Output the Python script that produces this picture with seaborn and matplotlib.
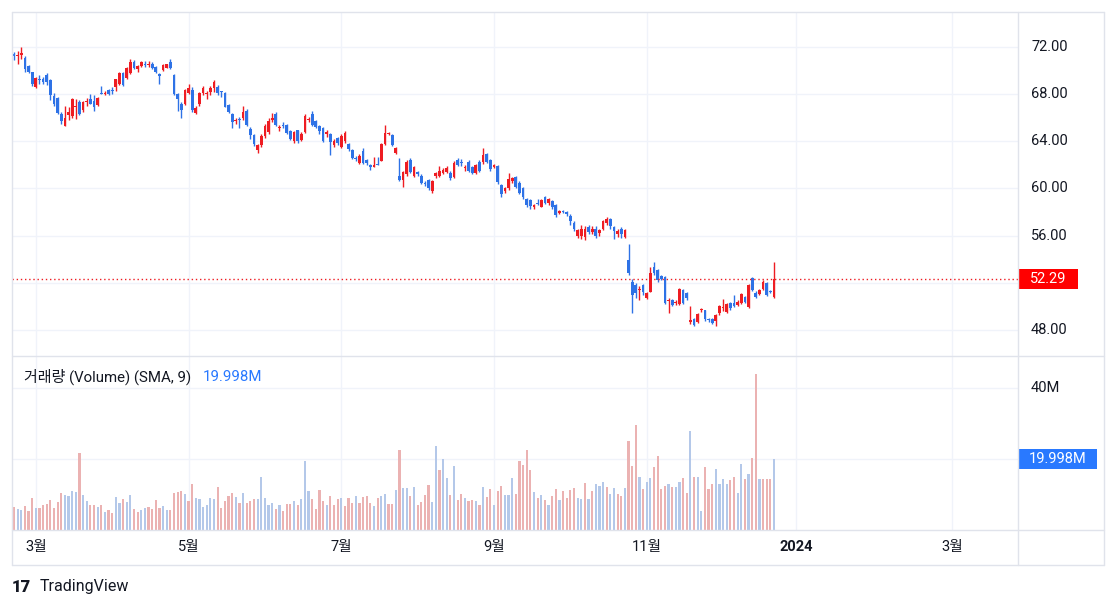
import numpy as np
import pandas as pd
import matplotlib
matplotlib.use("Agg")
import matplotlib.pyplot as plt
import matplotlib.transforms as mtransforms
from matplotlib.lines import Line2D
from matplotlib.patches import Rectangle
import seaborn as sns

# ---------------- data (daily OHLC) ----------------
opens = [71.40, 71.20, 71.35, 71.05, 70.40, 69.85, 68.60, 69.25, 69.30, 69.60,
         69.20, 67.85, 67.65, 66.30, 65.30, 66.20, 66.15, 66.95, 67.30, 66.65,
         67.35, 67.55, 67.45, 67.10, 68.10, 68.05, 68.35, 68.35, 68.60, 68.90,
         69.80, 69.40, 69.80, 70.75, 70.10, 70.40, 70.55, 70.45, 70.60, 70.30,
         69.70, 70.05, 70.25, 70.75, 69.60, 68.00, 67.15, 67.20, 68.10, 68.35,
         66.40, 67.15, 68.10, 68.05, 68.15, 68.50, 68.65, 68.25, 68.10, 67.10,
         66.30, 65.70, 65.85, 65.95, 66.55, 65.05, 64.55, 63.30, 63.70, 64.45,
         64.80, 65.85, 66.30, 65.10, 65.40, 65.40, 64.90, 64.05, 64.95, 64.10,
         64.80, 65.80, 66.35, 65.70, 65.30, 65.10, 64.65, 64.65, 63.65, 64.30,
         63.55, 64.05, 63.80, 63.30, 62.60, 62.20, 63.20, 62.40, 62.00, 61.85,
         62.10, 62.35, 63.80, 64.60, 64.50, 63.00, 61.05, 60.70, 61.20, 62.40,
         61.10, 61.40, 61.10, 60.45, 60.70, 59.75, 61.05, 61.10, 61.30, 61.40,
         61.35, 60.95, 62.40, 62.25, 61.75, 62.25, 61.80, 61.35, 62.25, 62.25,
         62.90, 62.40, 61.80, 61.90, 60.30, 59.80, 60.00, 60.65, 60.95, 60.50,
         60.05, 59.10, 59.00, 58.45, 58.80, 58.45, 59.30, 58.75, 58.90, 58.60,
         57.95, 58.10, 58.00, 57.70, 57.10, 56.00, 56.00, 55.90, 56.70, 56.30,
         56.60, 56.20, 56.60, 57.05, 57.40, 56.70, 56.10, 56.60, 55.90, 53.95,
         52.10, 51.80, 51.40, 51.80, 50.70, 51.25, 53.35, 53.10, 52.60, 52.50,
         50.45, 50.50, 50.25, 50.20, 51.40, 51.15, 48.70, 48.90, 48.70, 49.65,
         49.65, 48.95, 48.95, 48.75, 49.40, 49.85, 49.55, 50.30, 50.30, 50.10,
         50.30, 50.80, 49.95, 52.40, 51.15, 51.05, 51.50, 52.00, 51.30, 50.80]
highs = [71.60, 71.70, 72.00, 71.20, 70.50, 69.90, 69.45, 69.60, 69.45, 69.80,
         69.30, 68.10, 67.80, 66.50, 67.00, 66.90, 67.70, 67.55, 67.50, 67.40,
         67.70, 68.00, 67.90, 67.80, 68.70, 68.30, 68.45, 68.60, 69.30, 69.90,
         69.90, 70.30, 71.00, 70.90, 70.50, 70.80, 70.80, 70.80, 70.70, 70.40,
         69.80, 70.60, 70.60, 71.00, 69.70, 68.10, 67.30, 68.40, 68.90, 68.60,
         67.00, 68.20, 68.70, 68.30, 68.70, 69.20, 68.80, 68.30, 68.20, 67.20,
         66.40, 66.00, 66.10, 67.00, 66.70, 65.20, 64.60, 63.80, 64.60, 65.50,
         66.00, 66.40, 66.50, 65.40, 65.60, 65.50, 64.95, 64.90, 65.00, 64.80,
         66.30, 66.10, 66.60, 65.80, 65.40, 65.20, 65.00, 64.70, 64.20, 64.40,
         64.60, 64.90, 63.90, 63.35, 62.75, 62.90, 63.40, 62.50, 62.10, 62.70,
         62.70, 63.90, 65.40, 64.80, 64.60, 63.50, 62.60, 61.50, 62.40, 62.60,
         61.90, 61.50, 61.20, 60.60, 60.80, 60.70, 61.40, 61.90, 61.70, 61.90,
         61.45, 62.30, 62.60, 62.50, 62.00, 62.40, 61.90, 62.10, 62.40, 63.40,
         63.00, 62.50, 62.10, 62.00, 60.35, 60.10, 61.35, 61.00, 61.10, 60.60,
         60.10, 59.20, 59.10, 58.70, 59.10, 59.10, 59.40, 59.20, 59.00, 58.70,
         58.20, 58.20, 58.10, 57.80, 57.20, 56.60, 56.90, 56.80, 56.90, 56.80,
         56.80, 56.60, 57.30, 57.60, 57.50, 56.80, 56.60, 56.70, 56.60, 55.30,
         52.30, 51.95, 51.70, 51.90, 51.20, 53.30, 53.75, 53.20, 52.65, 52.60,
         50.70, 50.60, 50.50, 51.60, 51.50, 51.25, 50.00, 49.00, 49.45, 49.90,
         49.70, 49.00, 49.00, 49.35, 50.10, 50.65, 50.30, 50.40, 50.95, 50.50,
         51.15, 50.90, 51.90, 52.50, 51.30, 51.45, 52.20, 52.10, 51.40, 53.75]
lows = [70.90, 70.60, 71.00, 69.90, 69.80, 68.70, 68.50, 68.90, 68.90, 68.80,
        67.50, 67.00, 66.30, 65.50, 65.30, 65.80, 66.00, 65.90, 66.20, 66.50,
        67.00, 67.15, 66.60, 67.00, 68.00, 67.90, 67.95, 68.00, 68.30, 68.80,
        68.70, 69.30, 69.70, 70.10, 69.90, 70.30, 70.30, 70.30, 70.10, 69.80,
        68.90, 70.00, 70.20, 70.10, 67.90, 66.60, 66.00, 67.10, 68.00, 66.50,
        66.30, 67.00, 67.90, 67.60, 67.90, 68.20, 67.90, 67.80, 66.90, 66.40,
        65.10, 65.50, 65.10, 65.80, 65.30, 64.20, 63.60, 63.00, 63.50, 64.30,
        64.60, 65.60, 65.30, 64.90, 65.10, 64.60, 64.10, 63.90, 63.90, 64.00,
        64.70, 65.60, 65.30, 65.10, 64.60, 63.95, 64.40, 62.80, 63.50, 63.70,
        63.40, 63.90, 63.20, 62.50, 62.35, 62.10, 62.10, 62.00, 61.60, 61.80,
        61.95, 62.30, 63.70, 64.50, 63.60, 62.90, 60.60, 60.10, 61.10, 61.30,
        61.00, 61.10, 60.40, 60.20, 59.90, 59.60, 60.90, 61.00, 61.20, 61.30,
        60.75, 60.90, 61.90, 61.90, 61.50, 61.40, 61.20, 61.20, 61.40, 62.10,
        62.20, 61.50, 61.70, 60.40, 59.30, 59.60, 59.90, 60.50, 60.00, 59.50,
        59.10, 58.40, 58.30, 58.30, 58.60, 58.40, 58.70, 58.60, 58.30, 57.60,
        57.80, 57.90, 57.70, 56.90, 56.40, 55.80, 55.70, 55.60, 56.10, 56.10,
        55.80, 56.00, 56.50, 56.90, 56.60, 55.70, 55.90, 55.80, 55.80, 52.70,
        49.45, 50.70, 50.50, 51.00, 50.60, 51.20, 52.70, 52.10, 52.20, 50.20,
        49.40, 50.00, 50.10, 50.10, 50.20, 50.50, 48.50, 48.30, 48.60, 49.50,
        48.80, 48.70, 48.50, 48.30, 49.30, 49.60, 49.40, 49.70, 49.95, 50.00,
        50.20, 50.30, 49.90, 51.30, 50.70, 50.95, 51.40, 50.85, 51.10, 50.70]
closes = [71.25, 71.35, 71.45, 70.10, 69.90, 68.90, 69.40, 69.20, 69.00, 69.05,
          67.90, 67.20, 66.40, 65.70, 66.00, 66.50, 67.55, 67.00, 66.30, 67.30,
          67.40, 67.20, 66.95, 67.65, 68.05, 68.10, 68.00, 68.30, 69.25, 69.80,
          68.80, 70.20, 70.70, 70.20, 70.35, 70.70, 70.50, 70.50, 70.20, 69.85,
          69.50, 70.50, 70.55, 70.20, 68.00, 67.55, 66.65, 68.35, 68.50, 66.65,
          66.85, 68.10, 68.50, 68.10, 68.55, 69.05, 68.10, 68.20, 66.95, 66.50,
          65.65, 65.75, 65.80, 66.45, 65.40, 64.50, 63.75, 63.70, 64.45, 65.30,
          65.70, 65.95, 65.40, 65.20, 65.30, 64.70, 64.20, 64.75, 64.05, 64.65,
          66.15, 65.90, 65.40, 65.25, 64.90, 64.05, 64.75, 63.95, 64.00, 63.90,
          64.45, 64.70, 63.35, 62.60, 62.50, 62.75, 62.20, 62.20, 61.85, 61.95,
          62.00, 63.80, 64.70, 64.70, 63.70, 63.40, 60.70, 61.40, 62.25, 61.40,
          61.80, 61.20, 60.50, 60.40, 60.00, 60.65, 61.35, 61.50, 61.55, 61.75,
          60.85, 62.20, 62.00, 62.20, 61.85, 61.50, 61.30, 62.00, 61.50, 62.85,
          62.25, 61.65, 62.00, 60.55, 59.55, 60.00, 60.80, 60.85, 60.15, 59.60,
          59.30, 58.60, 58.50, 58.60, 58.70, 59.00, 58.80, 59.10, 58.45, 57.75,
          58.10, 58.00, 57.80, 57.20, 56.60, 56.45, 56.60, 56.60, 56.30, 56.60,
          56.00, 56.45, 57.20, 57.40, 56.80, 56.40, 56.40, 56.10, 56.50, 52.85,
          50.95, 51.10, 51.50, 51.20, 51.15, 52.80, 52.80, 52.20, 52.35, 50.30,
          50.55, 50.10, 50.35, 51.50, 50.30, 50.70, 48.85, 48.40, 49.35, 49.75,
          48.90, 48.85, 48.60, 49.30, 50.00, 49.95, 50.20, 49.85, 50.05, 50.35,
          51.05, 50.40, 51.80, 51.40, 50.80, 51.35, 52.10, 50.95, 51.20, 52.29]

# volume in millions, and whether the volume bar is drawn in the "up" colour
volume_m = [6.6, 5.9, 5.6, 6.8, 5.4, 9.1, 6.2, 6.2, 6.9, 7.3,
            8.5, 6.3, 7.9, 10.4, 9.9, 9.6, 11.0, 10.6, 21.7, 9.9,
            8.1, 7.0, 7.0, 6.6, 7.0, 5.2, 5.6, 4.7, 9.3, 7.7,
            8.8, 8.0, 9.9, 5.9, 5.2, 5.6, 6.3, 6.6, 5.9, 8.5,
            6.3, 6.8, 5.6, 5.6, 10.4, 10.7, 11.0, 10.0, 8.2, 13.0,
            9.0, 8.8, 6.6, 6.9, 9.0, 8.6, 12.1, 6.3, 8.2, 9.6,
            10.3, 9.3, 7.6, 10.4, 7.6, 8.2, 8.7, 8.7, 15.0, 9.0,
            7.0, 7.6, 5.9, 6.9, 5.4, 7.3, 7.3, 8.2, 6.9, 8.7,
            19.5, 11.0, 8.7, 5.9, 11.3, 8.2, 6.9, 9.6, 6.9, 8.7,
            9.0, 6.8, 9.0, 7.6, 9.6, 7.6, 9.3, 9.6, 7.6, 6.8,
            9.0, 9.6, 10.1, 7.3, 7.3, 11.3, 22.5, 11.7, 11.7, 9.6,
            12.0, 6.9, 7.9, 9.9, 12.7, 7.8, 23.7, 16.9, 19.9, 14.6,
            9.9, 18.0, 8.5, 10.1, 8.9, 8.2, 8.5, 8.2, 7.0, 12.1,
            9.3, 11.5, 7.0, 11.0, 12.4, 9.9, 9.9, 14.7, 10.1, 19.4,
            18.3, 22.5, 16.9, 10.7, 9.1, 9.9, 8.5, 6.9, 9.6, 11.5,
            8.5, 11.0, 9.1, 11.3, 11.9, 9.0, 8.7, 13.1, 8.7, 11.0,
            13.0, 12.4, 13.5, 12.1, 10.1, 11.8, 10.1, 9.6, 11.8, 25.1,
            18.0, 29.6, 14.8, 11.5, 13.4, 14.6, 17.7, 20.8, 11.5, 12.4,
            13.0, 12.1, 12.1, 13.5, 14.6, 10.4, 27.9, 14.8, 14.8, 5.4,
            17.7, 11.5, 13.0, 17.2, 13.0, 14.4, 13.0, 14.1, 14.9, 10.4,
            18.6, 14.4, 15.8, 20.3, 43.9, 14.4, 14.4, 14.4, 14.4, 19.998]
volume_up = [1, 0, 0, 1, 1, 1, 0, 1, 1, 1,
             1, 1, 1, 1, 0, 0, 0, 0, 1, 0,
             0, 1, 1, 0, 1, 0, 1, 1, 0, 0,
             1, 0, 0, 1, 1, 0, 0, 1, 1, 1,
             1, 0, 0, 1, 1, 1, 1, 0, 1, 1,
             0, 0, 0, 0, 0, 0, 1, 1, 1, 1,
             1, 0, 1, 0, 1, 1, 1, 0, 0, 0,
             0, 0, 1, 0, 1, 1, 1, 0, 1, 0,
             0, 0, 1, 1, 1, 1, 0, 1, 1, 1,
             0, 1, 1, 1, 0, 1, 1, 1, 1, 0,
             1, 0, 0, 1, 1, 0, 1, 0, 0, 1,
             0, 1, 1, 1, 1, 0, 0, 1, 0, 0,
             1, 0, 1, 1, 0, 1, 1, 0, 1, 0,
             1, 1, 0, 1, 1, 0, 0, 0, 1, 1,
             1, 1, 1, 0, 1, 0, 1, 0, 1, 1,
             0, 1, 1, 1, 1, 0, 0, 1, 0, 1,
             0, 0, 0, 1, 0, 0, 1, 1, 0, 1,
             1, 1, 0, 1, 0, 0, 1, 1, 1, 1,
             0, 1, 0, 0, 1, 1, 0, 1, 0, 0,
             1, 1, 1, 0, 0, 0, 0, 1, 1, 0,
             0, 1, 0, 1, 1, 0, 1, 1, 1, 0]

# time axis: bar index of the first session of each labelled month
month_bar_index = [6, 48, 90, 132, 174, 215, 258]
month_labels = ["3월", "5월", "7월", "9월", "11월", "2024", "3월"]
price_ticks = [48, 52, 56, 60, 64, 68, 72]
volume_ticks = [20, 40]
last_price = 52.29
volume_value_m = 19.998

# ---------------- style ----------------
sns.set_theme(style="white")
plt.rcParams['font.family'] = ['Roboto', 'Noto Sans CJK KR', 'DejaVu Sans']

RED = "#EE1C22"
BLUE = "#2E72E6"
VRED = "#F5A8A8"
VBLUE = "#ABC6F2"
TXT = "#131722"
GRID = "#F0F3FA"
BORDER = "#E0E3EB"

W, H = 1118, 609
fig = plt.figure(figsize=(W / 100, H / 100), dpi=100)
fig.patch.set_facecolor("white")


def fx(x):
    return x / W


def fy(y):
    return 1 - y / H


ax_p = fig.add_axes([fx(12), fy(356), (1018 - 12) / W, (356 - 12) / H])
ax_v = fig.add_axes([fx(12), fy(530), (1018 - 12) / W, (530 - 356) / H])

n = len(closes)
idx = np.arange(n)
o = np.array(opens)
c = np.array(closes)
hi = np.array(highs)
lo = np.array(lows)
up = c >= o
cols = np.where(up, RED, BLUE)

# candles
ax_p.vlines(idx, lo, hi, colors=cols, lw=1.0, zorder=3)
body_bottom = np.minimum(o, c)
body_h = np.maximum(np.abs(c - o), 0.08)
ax_p.bar(idx, body_h, bottom=body_bottom, width=0.76, color=cols,
         linewidth=0, zorder=4)

# volume via seaborn
vdf = pd.DataFrame({"bar": idx, "vol": volume_m,
                    "dir": np.where(np.array(volume_up) == 1, "up", "down")})
sns.barplot(data=vdf, x="bar", y="vol", hue="dir",
            palette={"up": VRED, "down": VBLUE}, native_scale=True,
            width=0.58, dodge=False, errorbar=None, legend=False,
            linewidth=0, ax=ax_v, zorder=3)

x_left, x_right = -0.55, 276.1
for ax in (ax_p, ax_v):
    ax.set_xlim(x_left, x_right)
    ax.set_xticks(month_bar_index)
    ax.grid(True, color=GRID, lw=1, zorder=0)
    ax.set_axisbelow(True)
    ax.tick_params(length=0, labelleft=False, labelbottom=False,
                   labelright=False, labeltop=False)
    for s in ax.spines.values():
        s.set_visible(False)
    ax.set_xlabel("")
    ax.set_ylabel("")
    ax.set_facecolor("white")

ax_p.set_ylim(45.79, 74.97)
ax_p.set_yticks(price_ticks)
ax_v.set_ylim(0, 49.0)
ax_v.set_yticks(volume_ticks)

# last price dotted line
ax_p.axhline(last_price, color=RED, lw=1, ls=(0, (1, 2)), zorder=5)

# right price labels (the one hidden by the last-price box is not drawn)
tp = mtransforms.blended_transform_factory(ax_p.transAxes, ax_p.transData)
lx = (1031 - 12) / 1006
for v in price_ticks:
    if abs(v - last_price) < 1.2:
        continue
    ax_p.text(lx, v, f"{v:.2f}", transform=tp, ha="left", va="center",
              fontsize=10.5, color=TXT, clip_on=False, zorder=3)
box_x0 = (1019 - 12) / 1006
box_w = (1078 - 1019) / 1006
ax_p.add_patch(Rectangle((box_x0, last_price - 0.85), box_w, 1.7,
                         transform=tp, facecolor="#FF0000", edgecolor="none",
                         clip_on=False, zorder=8))
ax_p.text(box_x0 + box_w / 2, last_price, f"{last_price:.2f}", transform=tp,
          ha="center", va="center", fontsize=10.5, color="white",
          clip_on=False, zorder=9)

# right volume labels (the one hidden by the value box is not drawn)
tv = mtransforms.blended_transform_factory(ax_v.transAxes, ax_v.transData)
for v in volume_ticks:
    if abs(v - volume_value_m) < 4:
        continue
    ax_v.text(lx, v, f"{v}M", transform=tv, ha="left", va="center",
              fontsize=10.5, color=TXT, clip_on=False, zorder=3)
vbox_w = (1097 - 1019) / 1006
ax_v.add_patch(Rectangle((box_x0, volume_value_m - 2.75), vbox_w, 5.5,
                         transform=tv, facecolor="#2979FF", edgecolor="none",
                         clip_on=False, zorder=8))
ax_v.text(box_x0 + vbox_w / 2, volume_value_m, f"{volume_value_m:.3f}M",
          transform=tv, ha="center", va="center", fontsize=10.5,
          color="white", clip_on=False, zorder=9)

# time axis labels
tt = mtransforms.blended_transform_factory(ax_v.transData, ax_v.transAxes)
for pos, lab in zip(month_bar_index, month_labels):
    ax_v.text(pos, -(547 - 530) / 174, lab, transform=tt, ha="center",
              va="center", fontsize=10.5, color=TXT, clip_on=False,
              fontweight="bold" if lab.isdigit() else "normal")

# volume legend
fig.text(fx(24), fy(377), "거래량 (Volume) (SMA, 9)", ha="left", va="center",
         fontsize=10.8, color=TXT)
fig.text(fx(203), fy(377), f"{volume_value_m:.3f}M", ha="left", va="center",
         fontsize=10.8, color="#2979FF")

# frame lines
def fline(x0, y0, x1, y1):
    fig.add_artist(Line2D([fx(x0), fx(x1)], [fy(y0), fy(y1)],
                          transform=fig.transFigure, color=BORDER, lw=1))

fline(12, 12, 1104, 12)
fline(12, 565, 1104, 565)
fline(12, 12, 12, 565)
fline(1104, 12, 1104, 565)
fline(1018, 12, 1018, 565)
fline(12, 356, 1104, 356)
fline(12, 530, 1104, 530)

# TradingView branding
fig.text(fx(12), fy(587), "17", ha="left", va="center", fontsize=12,
         fontweight="black", color=TXT)
fig.text(fx(40), fy(587), "TradingView", ha="left", va="center",
         fontsize=11.5, color=TXT)

fig.savefig("out.png", dpi=100, facecolor="white")
